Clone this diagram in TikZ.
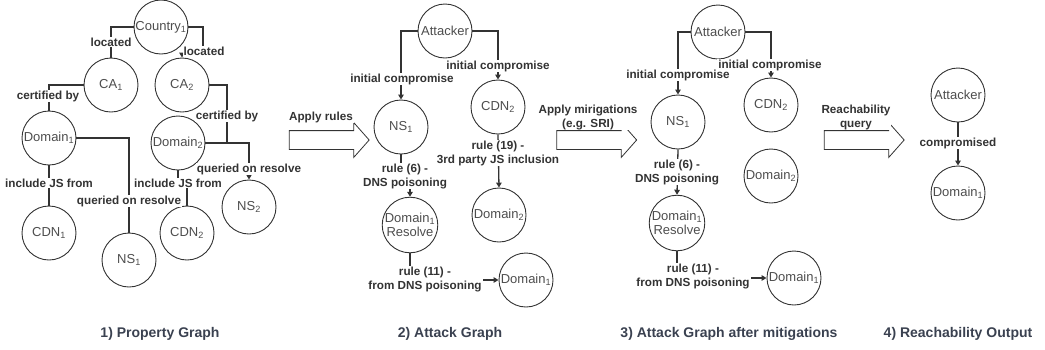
\documentclass[tikz,border=0pt]{standalone}
\usepackage{fontspec}
\setmainfont{Liberation Sans}
\usetikzlibrary{arrows.meta,shapes.arrows}
\definecolor{ink}{HTML}{333333}
\definecolor{nodetext}{HTML}{4D4D4D}
\definecolor{titleink}{HTML}{3A4150}
\tikzset{
  entity/.style={circle, draw=ink, line width=0.9pt, minimum size=54pt, inner sep=0pt,
    text=nodetext, font=\fontsize{13}{16}\selectfont, align=center},
  link/.style={draw=ink, line width=1.3pt},
  arrowlink/.style={link, -{Triangle[length=5pt,width=5.5pt]}},
  lbl/.style={fill=white, text=ink, font=\bfseries\fontsize{11.7}{14}\selectfont,
    inner sep=1pt, align=center},
  caption/.style={text=titleink, font=\bfseries\fontsize{14}{16}\selectfont},
  stage/.style={single arrow, draw=ink, line width=0.8pt, minimum height=80pt,
    inner xsep=0pt, inner ysep=9pt, single arrow head extend=8pt,
    single arrow tip angle=97},
}
\newcommand{\sub}[1]{\textsubscript{#1}}

\begin{document}
\begin{tikzpicture}[x=1pt,y=-1pt]
\useasboundingbox (0,0) rectangle (1045,349);

% ---------- 1) property graph ----------
\node[entity] (pCountry) at (161,27) {Country\sub{1}};
\node[entity] (pCA1) at (111,85) {CA\sub{1}};
\node[entity] (pCA2) at (182,85) {CA\sub{2}};
\node[entity] (pDom1) at (49,138) {Domain\sub{1}};
\node[entity] (pDom2) at (178,143) {Domain\sub{2}};
\node[entity] (pCDN1) at (49,233) {CDN\sub{1}};
\node[entity] (pNS1) at (129,260) {NS\sub{1}};
\node[entity] (pCDN2) at (187,233) {CDN\sub{2}};
\node[entity] (pNS2) at (249,207) {NS\sub{2}};

\draw[link] (pCountry.west) -| (pCA1.north) node[lbl] at (111,42) {located};
\draw[arrowlink] (pCountry.east) -| (203,55) -| (pCA2.north) node[lbl] at (204,51) {located};
\draw[link] (pCA1.west) -| (pDom1.north) node[lbl] at (48,96) {certified by};
\draw[link] (pCA2.east) -| (227,143) -- (pDom2.east) node[lbl] at (227,116) {certified by};
\draw[arrowlink] (pDom2.east) -| (pNS2.north) node[lbl] at (249,169) {queried on resolve};
\draw[link] (pDom1.south) -- (pCDN1.north) node[lbl] at (49,183) {include JS from};
\draw[link] (pDom1.east) -| (pNS1.north) node[lbl] at (129,201) {queried on resolve};
\draw[link] (pDom2.south) -- (178,183) -| (pCDN2.north) node[lbl] at (178,183) {include JS from};

\node[caption] (cap1) at (160,334) {1) Property Graph};

% ---------- stage arrow 1 ----------
\node[stage] (step1) at (325,140) {};
\node[lbl] (step1lbl) at (321,117) {Apply rules};

% ---------- 2) attack graph ----------
\node[entity] (aAtt) at (445,31) {Attacker};
\node[entity] (aNS1) at (401,127) {NS\sub{1}};
\node[entity] (aCDN2) at (498,107) {CDN\sub{2}};
\node[entity] (aRes) at (410,225) {Domain\sub{1}\\[-2pt]Resolve};
\node[entity] (aDom2) at (499,215) {Domain\sub{2}};
\node[entity] (aDom1) at (526,280) {Domain\sub{1}};

\draw[arrowlink] (aAtt.west) -| (aNS1.north) node[lbl] at (402,79) {initial compromise};
\draw[arrowlink] (aAtt.east) -| (aCDN2.north) node[lbl] at (498,66) {initial compromise};
\draw[arrowlink] (aNS1.south) -- (401,176) -| (aRes.north) node[lbl] at (405,176) {rule (6) -\\DNS poisoning};
\draw[arrowlink] (aRes.south) |- (aDom1.west) node[lbl] at (425,279) {rule (11) -\\from DNS poisoning};
\draw[arrowlink] (aCDN2.south) -- (aDom2.north) node[lbl] at (498,153) {rule (19) -\\3rd party JS inclusion};

\node[caption] (cap2) at (450,334) {2) Attack Graph};

% ---------- stage arrow 2 ----------
\node[stage] (step2) at (592.5,140) {};
\node[lbl] (step2lbl) at (588,117) {Apply mirigations\\(e.g. SRI)};

% ---------- 3) attack graph after mitigations ----------
\node[entity] (mAtt) at (718,32) {Attacker};
\node[entity] (mNS1) at (678,122) {NS\sub{1}};
\node[entity] (mCDN2) at (771,105) {CDN\sub{2}};
\node[entity] (mRes) at (677,223) {Domain\sub{1}\\[-2pt]Resolve};
\node[entity] (mDom2) at (771,176) {Domain\sub{2}};
\node[entity] (mDom1) at (794,278) {Domain\sub{1}};

\draw[arrowlink] (mAtt.west) -| (mNS1.north) node[lbl] at (678,75) {initial compromise};
\draw[arrowlink] (mAtt.east) -| (mCDN2.north) node[lbl] at (770,65) {initial compromise};
\draw[arrowlink] (mNS1.south) -- (mRes.north) node[lbl] at (677,172) {rule (6) -\\DNS poisoning};
\draw[arrowlink] (mRes.south) |- (mDom1.west) node[lbl] at (693,276) {rule (11) -\\from DNS poisoning};

\node[caption] (cap3) at (729,334) {3) Attack Graph after mitigations};

% ---------- stage arrow 3 ----------
\node[stage] (step3) at (860,140) {};
\node[lbl] (step3lbl) at (856,117) {Reachability\\query};

% ---------- 4) reachability output ----------
\node[entity] (rAtt) at (958,95) {Attacker};
\node[entity] (rDom1) at (958,193) {Domain\sub{1}};
\draw[arrowlink] (rAtt.south) -- (rDom1.north) node[lbl] at (958,143) {compromised};

\node[caption] (cap4) at (958,334) {4) Reachability Output};
\end{tikzpicture}
\end{document}
